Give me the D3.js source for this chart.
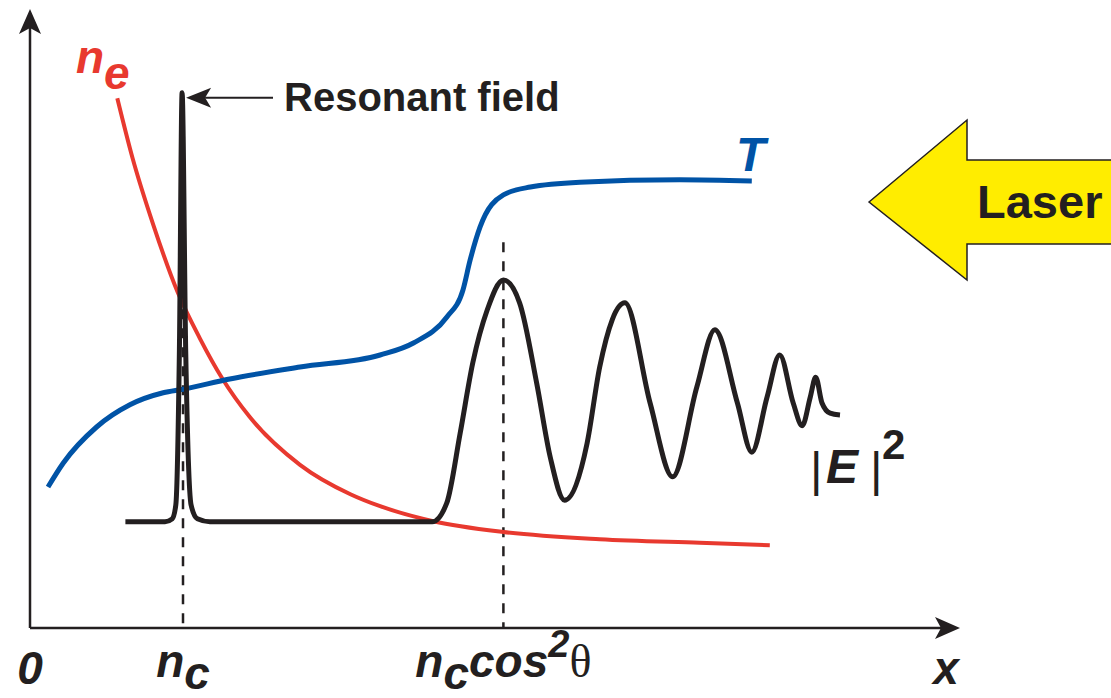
<!DOCTYPE html>
<html>
<head>
<meta charset="utf-8">
<script src="https://cdn.jsdelivr.net/npm/d3@7"></script>
<style>
body { margin: 0; background: #fff; }
text { font-family: "Liberation Sans", Arial, sans-serif; }
</style>
</head>
<body>
<div id="chart"></div>
<script>
// curves (x and y in 0..100 plot units)
var neCurve = [[9.7,88.3],[11.4,78.3],[13.7,67.2],[16.4,56],[18.9,48.2],[21.4,41.5],[24.4,35.2],
	[30,27.2],[35.6,22.3],[38.9,20.3],[44.8,17.8],[52.6,16],[63.3,14.8],[74.4,14.2],[82.2,13.8]];
var tCurve = [[2,23.5],[3.7,27.5],[7.4,33.5],[11.1,37.2],[14.8,39.2],[17,39.8],[22.2,41.5],[30,43.5],
	[38.9,45.5],[42.6,47.5],[46.3,51.8],[48.1,56.3],[48.9,61.3],[50,66.8],[52.6,72.2],[55.6,73.5],
	[61.1,74.3],[72.2,74.7],[80.2,74.5]];
var eCurve = [[10.6,17.7],[15,17.7],[15.8,18.2],[16.2,20.5],[16.6,46.3],[16.9,89.2],[17.3,46.3],
	[17.9,20.5],[18.6,18.2],[20,17.7],[44.7,17.7],[46.3,20.8],[47.8,32.5],[49.2,44.2],[50.8,53],
	[52.6,58],[54.4,54.2],[56.3,40.8],[57.8,28.5],[59.4,21.3],[61.9,30.8],[63.3,43.5],[66.1,54.2],
	[68.9,37.5],[71.4,25.2],[74.1,40.2],[76.1,49.7],[78.6,37.5],[80.2,29.3],[81.9,38.5],[83.3,45.5],
	[84.8,37.5],[85.8,33.7],[86.7,38.5],[87.3,41.8],[88,37.5],[88.9,35.8],[90,35.5]];
// dashed markers: n_c and n_c cos^2 theta
var markerX = [17, 52.6];
var markerTop = [56.3, 64.3];

var width = 1111, height = 698;
var x = d3.scaleLinear().domain([0, 100]).range([30, 930]);
var y = d3.scaleLinear().domain([0, 100]).range([628, 28]);

var svg = d3.select("#chart").append("svg")
	.attr("width", width)
	.attr("height", height);

var ink = "#231f20";

// dashed guides
svg.selectAll("line.guide")
	.data(markerX)
	.enter().append("line")
	.attr("class", "guide")
	.attr("x1", function(d) { return x(d); })
	.attr("x2", function(d) { return x(d); })
	.attr("y1", function(d, i) { return y(markerTop[i]); })
	.attr("y2", y(0))
	.attr("stroke", ink)
	.attr("stroke-width", 2.5)
	.attr("stroke-dasharray", "10,9");

// axes
svg.append("line").attr("x1", x(0)).attr("y1", y(0)).attr("x2", x(0)).attr("y2", 20)
	.attr("stroke", ink).attr("stroke-width", 2.5);
svg.append("line").attr("x1", x(0)).attr("y1", y(0)).attr("x2", 948).attr("y2", y(0))
	.attr("stroke", ink).attr("stroke-width", 2.5);
svg.append("path").attr("d", "M30,9 L41,34 L30,28 L19,34 Z").attr("fill", ink);
svg.append("path").attr("d", "M960,628 L935,617 L941,628 L935,639 Z").attr("fill", ink);

var line = d3.line()
	.x(function(d) { return x(d[0]); })
	.y(function(d) { return y(d[1]); })
	.curve(d3.curveMonotoneX);

svg.append("path").datum(neCurve)
	.attr("d", line)
	.attr("fill", "none").attr("stroke", "#e8392f").attr("stroke-width", 4);
svg.append("path").datum(tCurve)
	.attr("d", line)
	.attr("fill", "none").attr("stroke", "#0053a6").attr("stroke-width", 5);
svg.append("path").datum(eCurve)
	.attr("d", line)
	.attr("fill", "none").attr("stroke", ink).attr("stroke-width", 5)
	.attr("stroke-linejoin", "round");

// resonant field arrow
var peak = eCurve[5];
var tx = x(peak[0]) + 4, ty = y(peak[1]) + 5;
svg.append("path")
	.attr("d", "M" + tx + "," + ty + " L" + (tx + 25) + "," + (ty - 10) + " L" + (tx + 19) + "," + ty +
		" L" + (tx + 25) + "," + (ty + 10) + " Z")
	.attr("fill", ink);
svg.append("line").attr("x1", tx + 19).attr("x2", 273).attr("y1", ty).attr("y2", ty)
	.attr("stroke", ink).attr("stroke-width", 2);
svg.append("text").attr("x", 284).attr("y", 111)
	.style("font-size", "40px").style("font-weight", "bold").attr("fill", ink)
	.text("Resonant field");

// laser arrow
svg.append("path")
	.attr("d", "M869,202 L967,120 L967,160 L1115,160 L1115,244 L967,244 L967,280 Z")
	.attr("fill", "#ffed00").attr("stroke", ink).attr("stroke-width", 1.5);
svg.append("text").attr("x", 977).attr("y", 218)
	.style("font-size", "47px").style("font-weight", "bold").attr("fill", ink)
	.text("Laser");

// curve labels
var ne = svg.append("text").attr("x", 76).attr("y", 73)
	.style("font-size", "46px").style("font-weight", "bold").style("font-style", "italic")
	.attr("fill", "#e8392f");
ne.append("tspan").text("n");
ne.append("tspan").attr("dy", 16).text("e");

svg.append("text").attr("x", 736).attr("y", 171)
	.style("font-size", "48px").style("font-weight", "bold").style("font-style", "italic")
	.attr("fill", "#0053a6").text("T");

var eg = svg.append("g").attr("fill", ink);
eg.append("text").attr("x", 810).attr("y", 486).style("font-size", "48px").text("|");
eg.append("text").attr("x", 826).attr("y", 483).style("font-size", "48px")
	.style("font-weight", "bold").style("font-style", "italic").text("E");
eg.append("text").attr("x", 870).attr("y", 486).style("font-size", "48px").text("|");
eg.append("text").attr("x", 882).attr("y", 459).style("font-size", "42px")
	.style("font-weight", "bold").text("2");

// x-axis labels
var lab = svg.append("g").attr("fill", ink)
	.style("font-size", "46px").style("font-weight", "bold").style("font-style", "italic");
lab.append("text").attr("x", x(0)).attr("y", 684).attr("text-anchor", "middle").text("0");
var nc = lab.append("text").attr("x", x(markerX[0])).attr("y", 677).attr("text-anchor", "middle");
nc.append("tspan").text("n");
nc.append("tspan").attr("dy", 12).text("c");
var nc2 = lab.append("text").attr("x", x(markerX[1])).attr("y", 677).attr("text-anchor", "middle");
nc2.append("tspan").text("n");
nc2.append("tspan").attr("dy", 12).text("c");
nc2.append("tspan").attr("dy", -12).text("cos");
nc2.append("tspan").attr("dy", -20).style("font-size", "38px").text("2");
nc2.append("tspan").attr("dy", 20).style("font-family", "'Liberation Serif', serif")
	.style("font-weight", "normal").style("font-style", "normal").text("θ");
lab.append("text").attr("x", 946).attr("y", 684).attr("text-anchor", "middle").text("x");
</script>
</body>
</html>
